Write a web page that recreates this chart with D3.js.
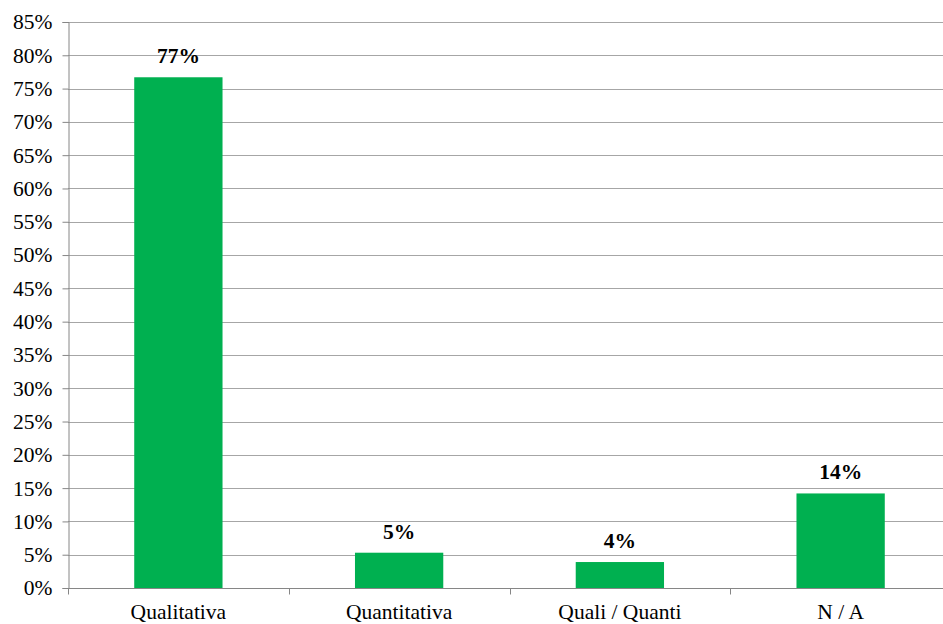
<!DOCTYPE html>
<html><head><meta charset="utf-8">
<script src="https://cdn.jsdelivr.net/npm/d3@7"></script>
<style>body{margin:0;background:#fff}svg{display:block}
text{font-family:"Liberation Serif","Times New Roman",serif}</style>
</head><body>
<svg id="c" width="943" height="624"></svg>
<script>
const categories = ["Qualitativa", "Quantitativa", "Quali / Quanti", "N / A"];
const values = [76.7, 5.3, 3.9, 14.2];
const labels = ["77%", "5%", "4%", "14%"];
const yTicks = [0,5,10,15,20,25,30,35,40,45,50,55,60,65,70,75,80,85];

const svg = d3.select("#c");
const W = 943, H = 624;
const m = {left: 68, top: 22, bottom: 36};
const plotRight = 951; // plot area extends slightly past the picture edge
const x = d3.scaleBand().domain(categories).range([m.left, plotRight]).paddingInner(0.6).paddingOuter(0.3);
const xb = d3.scaleBand().domain(categories).range([m.left, plotRight]);
const y = d3.scaleLinear().domain([0, 85]).range([H - m.bottom, m.top]);
const font = '"Liberation Serif","Times New Roman",serif';

// gridlines
svg.append("g").selectAll("line").data(yTicks).join("line")
  .attr("x1", m.left).attr("x2", W).attr("y1", d => Math.round(y(d)) + 0.5).attr("y2", d => Math.round(y(d)) + 0.5)
  .attr("stroke", "#a6a6a6").attr("stroke-width", 1);

// y axis
const ya = svg.append("g").attr("transform", `translate(${m.left + 0.5},0)`)
  .call(d3.axisLeft(y).tickValues(yTicks).tickFormat(d => d + "%").tickSize(6).tickPadding(10));
ya.attr("font-family", null).attr("font-size", null);
ya.select(".domain").attr("stroke", "#868686");
ya.selectAll(".tick line").attr("stroke", "#868686");
ya.selectAll("text").style("font-family", font).style("font-size", "21.5px").attr("fill", "#000");

// bars
svg.append("g").selectAll("rect").data(values).join("rect")
  .attr("x", (d, i) => x(categories[i]))
  .attr("width", x.bandwidth())
  .attr("y", d => y(d))
  .attr("height", d => y(0) - y(d))
  .attr("fill", "#00b050");

// x axis
const xa = svg.append("g").attr("transform", `translate(0,${Math.round(y(0)) + 0.5})`);
xa.append("line").attr("x1", m.left).attr("x2", W).attr("stroke", "#868686");
const bounds = categories.map(c => xb(c));
xa.selectAll(".tk").data(bounds).join("line").attr("class", "tk")
  .attr("x1", d => Math.round(d) + 0.5).attr("x2", d => Math.round(d) + 0.5).attr("y1", 0).attr("y2", 6)
  .attr("stroke", "#868686");
xa.selectAll("text").data(categories).join("text")
  .attr("x", d => xb(d) + xb.bandwidth() / 2).attr("y", 30)
  .attr("text-anchor", "middle").style("font-family", font).style("font-size", "21.5px").attr("fill", "#000")
  .text(d => d);

// data labels
svg.append("g").selectAll("text").data(values).join("text")
  .attr("x", (d, i) => x(categories[i]) + x.bandwidth() / 2)
  .attr("y", d => y(d) - 14)
  .attr("text-anchor", "middle").style("font-family", font).style("font-size", "21.5px").attr("font-weight", "bold")
  .text((d, i) => labels[i]);
</script>
</body></html>
